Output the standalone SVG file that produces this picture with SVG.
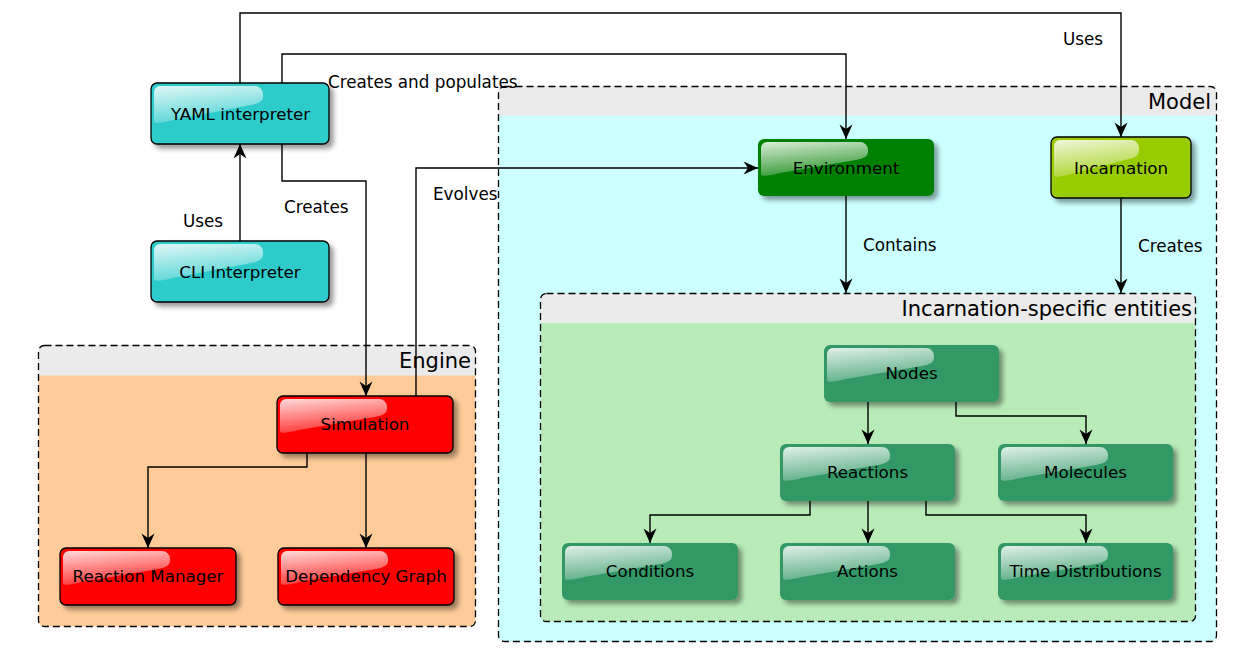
<svg xmlns="http://www.w3.org/2000/svg" width="1252" height="656" viewBox="0 0 1252 656">
<style>
text{font-family:"DejaVu Sans","Liberation Sans",sans-serif;fill:#000}
.nt{font-size:16.7px;text-anchor:middle}
.el{font-size:16.8px}
.gt{font-size:21px;text-anchor:end}
.edge{fill:none;stroke:#000;stroke-width:1.4;marker-end:url(#arr)}
.gb{stroke:#000;stroke-width:1.3;stroke-dasharray:7,4;fill:none}
.hd{fill:#EBEBEB}
.box{filter:url(#sh)}
.cy{fill:#2ECBCB;stroke:#000;stroke-width:1.3}
.rd{fill:#FF0000;stroke:#000;stroke-width:1.3}
.dg{fill:#008000}
.lg{fill:#99CC00;stroke:#000;stroke-width:1.3}
.mg{fill:#339966}
.gl{fill:url(#gloss)}
</style>
<defs>
<filter id="sh" x="-10%" y="-10%" width="130%" height="140%">
<feDropShadow dx="4" dy="4" stdDeviation="2.5" flood-color="#000" flood-opacity="0.4"/>
</filter>
<linearGradient id="gloss" x1="0" y1="0" x2="0.3" y2="1">
<stop offset="0" stop-color="#fff" stop-opacity="0.85"/>
<stop offset="1" stop-color="#fff" stop-opacity="0.22"/>
</linearGradient>
<marker id="arr" markerUnits="userSpaceOnUse" markerWidth="18" markerHeight="16" viewBox="-16 -8 18 16" refX="0" refY="0" orient="auto">
<path d="M0,0 L-14.5,-6.5 L-10,0 L-14.5,6.5 Z" fill="#000"/>
</marker>
</defs>

<g id="group-engine">
<rect x="38.5" y="345.5" width="437" height="281" rx="6" fill="#FFCC99"/>
<path class="hd" d="M38.5,375.5 V351.5 A6,6 0 0 1 44.5,345.5 H469.5 A6,6 0 0 1 475.5,351.5 V375.5 Z"/>
<rect class="gb" x="38.5" y="345.5" width="437" height="281" rx="6"/>
<text class="gt" x="471" y="368">Engine</text>
</g>
<g id="group-model">
<rect x="498.5" y="86.5" width="718" height="555" rx="6" fill="#CCFFFF"/>
<path class="hd" d="M498.5,115.5 V92.5 A6,6 0 0 1 504.5,86.5 H1210.5 A6,6 0 0 1 1216.5,92.5 V115.5 Z"/>
<rect class="gb" x="498.5" y="86.5" width="718" height="555" rx="6"/>
<text class="gt" x="1211" y="109">Model</text>
</g>
<g id="group-incarnation-specific">
<rect x="540.5" y="293.5" width="655" height="328" rx="6" fill="#B9EBB9"/>
<path class="hd" d="M540.5,323 V299.5 A6,6 0 0 1 546.5,293.5 H1189.5 A6,6 0 0 1 1195.5,299.5 V323 Z"/>
<rect class="gb" x="540.5" y="293.5" width="655" height="328" rx="6"/>
<text class="gt" x="1192" y="316">Incarnation-specific entities</text>
</g>

<g id="connectors">
<path class="edge" d="M240,83 V13 H1121 V137"/>
<path class="edge" d="M282,83 V54 H846 V139"/>
<path class="edge" d="M240,241 V144"/>
<path class="edge" d="M282,144 V181 H366 V396"/>
<path class="edge" d="M416,396 V168 H758"/>
<path class="edge" d="M307,453 V467 H148 V548"/>
<path class="edge" d="M366,453 V548"/>
<path class="edge" d="M846,196 V293"/>
<path class="edge" d="M1121,198 V293"/>
<path class="edge" d="M868,401 V444"/>
<path class="edge" d="M956,401 V416 H1086 V444"/>
<path class="edge" d="M810,500 V515 H650 V543"/>
<path class="edge" d="M868,500 V543"/>
<path class="edge" d="M926,500 V515 H1086 V543"/>
<text class="el" x="1063" y="45">Uses</text>
<text class="el" x="328" y="88">Creates and populates</text>
<text class="el" x="183" y="227">Uses</text>
<text class="el" x="284" y="213">Creates</text>
<text class="el" x="433" y="200">Evolves</text>
<text class="el" x="863" y="251">Contains</text>
<text class="el" x="1138" y="252">Creates</text>
</g>

<g id="node-yaml" transform="translate(151,83)">
<rect class="box cy" width="178" height="61" rx="6"/>
<path class="gl" d="M3,9 A6,6 0 0 1 9,3 H104 A8,8 0 0 1 112,11 V14 Q112,20 100,22 L22,37 Q3,42 3,38 Z"/>
<text class="nt" x="89.5" y="36.5">YAML interpreter</text>
</g>
<g id="node-cli" transform="translate(151,241)">
<rect class="box cy" width="178" height="61" rx="6"/>
<path class="gl" d="M3,9 A6,6 0 0 1 9,3 H104 A8,8 0 0 1 112,11 V14 Q112,20 100,22 L22,37 Q3,42 3,38 Z"/>
<text class="nt" x="89" y="36.5">CLI Interpreter</text>
</g>
<g id="node-simulation" transform="translate(277,396)">
<rect class="box rd" width="176" height="57" rx="6"/>
<path class="gl" d="M3,9 A6,6 0 0 1 9,3 H102 A8,8 0 0 1 110,11 V13 Q110,19 98,21 L22,34 Q3,39 3,35 Z"/>
<text class="nt" x="88" y="34">Simulation</text>
</g>
<g id="node-reaction-manager" transform="translate(60,548)">
<rect class="box rd" width="176" height="57" rx="6"/>
<path class="gl" d="M3,9 A6,6 0 0 1 9,3 H102 A8,8 0 0 1 110,11 V13 Q110,19 98,21 L22,34 Q3,39 3,35 Z"/>
<text class="nt" x="88" y="34">Reaction Manager</text>
</g>
<g id="node-dependency-graph" transform="translate(278,548)">
<rect class="box rd" width="176" height="57" rx="6"/>
<path class="gl" d="M3,9 A6,6 0 0 1 9,3 H102 A8,8 0 0 1 110,11 V13 Q110,19 98,21 L22,34 Q3,39 3,35 Z"/>
<text class="nt" x="88" y="34">Dependency Graph</text>
</g>
<g id="node-environment" transform="translate(758,139)">
<rect class="box dg" width="176" height="57" rx="6"/>
<path class="gl" d="M3,9 A6,6 0 0 1 9,3 H102 A8,8 0 0 1 110,11 V13 Q110,19 98,21 L22,34 Q3,39 3,35 Z"/>
<text class="nt" x="88" y="34.5">Environment</text>
</g>
<g id="node-incarnation" transform="translate(1051,137)">
<rect class="box lg" width="140" height="61" rx="6"/>
<path class="gl" d="M3,9 A6,6 0 0 1 9,3 H80 A8,8 0 0 1 88,11 V14 Q88,20 78,22 L20,37 Q3,42 3,38 Z"/>
<text class="nt" x="70" y="36.5">Incarnation</text>
</g>
<g id="node-nodes" transform="translate(824,345)">
<rect class="box mg" width="175" height="57" rx="6"/>
<path class="gl" d="M3,9 A6,6 0 0 1 9,3 H102 A8,8 0 0 1 110,11 V13 Q110,19 98,21 L22,34 Q3,39 3,35 Z"/>
<text class="nt" x="87.5" y="34">Nodes</text>
</g>
<g id="node-reactions" transform="translate(780,444)">
<rect class="box mg" width="175" height="57" rx="6"/>
<path class="gl" d="M3,9 A6,6 0 0 1 9,3 H102 A8,8 0 0 1 110,11 V13 Q110,19 98,21 L22,34 Q3,39 3,35 Z"/>
<text class="nt" x="87.5" y="34">Reactions</text>
</g>
<g id="node-molecules" transform="translate(998,444)">
<rect class="box mg" width="175" height="57" rx="6"/>
<path class="gl" d="M3,9 A6,6 0 0 1 9,3 H102 A8,8 0 0 1 110,11 V13 Q110,19 98,21 L22,34 Q3,39 3,35 Z"/>
<text class="nt" x="87.5" y="34">Molecules</text>
</g>
<g id="node-conditions" transform="translate(562,543)">
<rect class="box mg" width="176" height="57" rx="6"/>
<path class="gl" d="M3,9 A6,6 0 0 1 9,3 H102 A8,8 0 0 1 110,11 V13 Q110,19 98,21 L22,34 Q3,39 3,35 Z"/>
<text class="nt" x="88" y="34">Conditions</text>
</g>
<g id="node-actions" transform="translate(780,543)">
<rect class="box mg" width="175" height="57" rx="6"/>
<path class="gl" d="M3,9 A6,6 0 0 1 9,3 H102 A8,8 0 0 1 110,11 V13 Q110,19 98,21 L22,34 Q3,39 3,35 Z"/>
<text class="nt" x="87.5" y="34">Actions</text>
</g>
<g id="node-time-distributions" transform="translate(998,543)">
<rect class="box mg" width="175" height="57" rx="6"/>
<path class="gl" d="M3,9 A6,6 0 0 1 9,3 H102 A8,8 0 0 1 110,11 V13 Q110,19 98,21 L22,34 Q3,39 3,35 Z"/>
<text class="nt" x="87.5" y="34">Time Distributions</text>
</g>
</svg>
